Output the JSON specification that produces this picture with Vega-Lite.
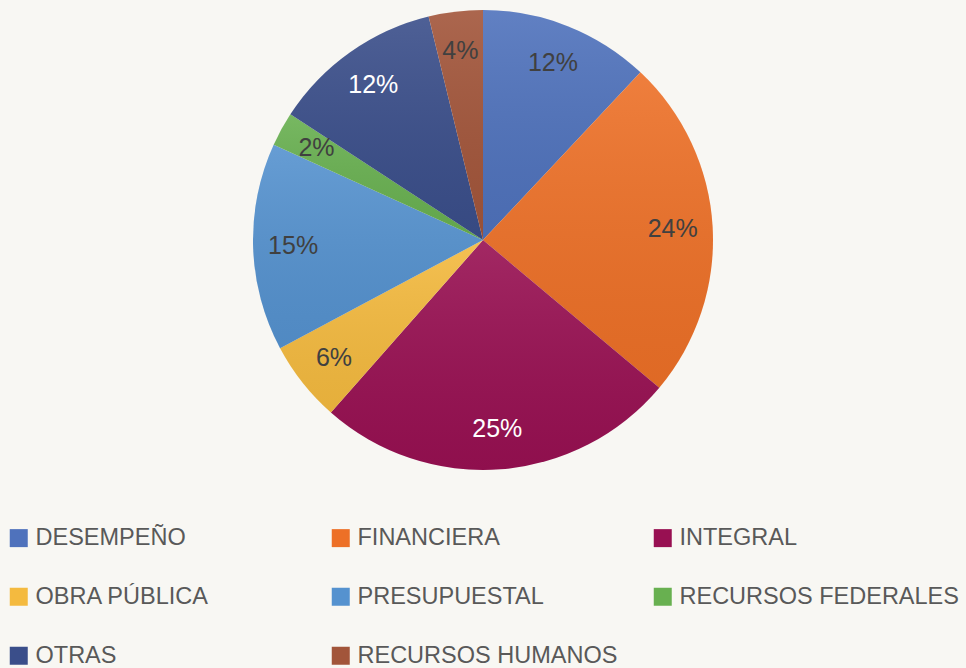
{
  "$schema": "https://vega.github.io/schema/vega-lite/v6.json",
  "width": 966,
  "height": 480,
  "padding": {"left": 0, "top": 0, "right": 0, "bottom": 188},
  "autosize": "none",
  "background": "#F8F7F3",
  "data": {
    "values": [
      {"cat": "DESEMPEÑO", "value": 0.120, "order": 1},
      {"cat": "FINANCIERA", "value": 0.241, "order": 2},
      {"cat": "INTEGRAL", "value": 0.254, "order": 3},
      {"cat": "OBRA PÚBLICA", "value": 0.057, "order": 4},
      {"cat": "PRESUPUESTAL", "value": 0.146, "order": 5},
      {"cat": "RECURSOS FEDERALES", "value": 0.024, "order": 6},
      {"cat": "OTRAS", "value": 0.120, "order": 7},
      {"cat": "RECURSOS HUMANOS", "value": 0.038, "order": 8}
    ]
  },
  "encoding": {
    "theta": {"field": "value", "type": "quantitative", "stack": true},
    "order": {"field": "order", "type": "quantitative"}
  },
  "layer": [
    {
      "mark": {"type": "arc", "outerRadius": 230},
      "encoding": {
        "color": {
          "field": "cat",
          "type": "nominal",
          "sort": null,
          "scale": {
            "domain": ["DESEMPEÑO", "FINANCIERA", "INTEGRAL", "OBRA PÚBLICA", "PRESUPUESTAL", "RECURSOS FEDERALES", "OTRAS", "RECURSOS HUMANOS"],
            "range": ["#4F72BC", "#ED7027", "#981052", "#F4BA3F", "#5592CF", "#68B050", "#3A4E8A", "#A2553A"]
          },
          "legend": {
            "title": null,
            "orient": "none",
            "legendX": 7,
            "legendY": 526,
            "direction": "horizontal",
            "columns": 3,
            "gridAlign": "all",
            "columnPadding": 14,
            "rowPadding": 34,
            "padding": 0,
            "symbolType": "square",
            "symbolSize": 324,
            "symbolStrokeWidth": 0,
            "symbolOpacity": 1,
            "labelOffset": 5,
            "labelFont": "Liberation Sans",
            "labelFontSize": 23.5,
            "labelColor": "#595959",
            "labelLimit": 400
          }
        }
      }
    },
    {
      "mark": {
        "type": "arc",
        "outerRadius": 230,
        "color": {
          "gradient": "linear",
          "x1": 0, "y1": 0, "x2": 0, "y2": 1,
          "stops": [
            {"offset": 0, "color": "rgba(255,255,255,0.10)"},
            {"offset": 1, "color": "rgba(0,0,0,0.06)"}
          ]
        }
      },
      "encoding": {}
    },
    {
      "mark": {"type": "text", "radius": 190, "font": "Liberation Sans", "fontSize": 25},
      "encoding": {
        "text": {"field": "value", "type": "quantitative", "format": ".0%"},
        "color": {
          "condition": {"test": "datum.cat === 'INTEGRAL' || datum.cat === 'OTRAS'", "value": "#FFFFFF"},
          "value": "#404040"
        }
      }
    }
  ]
}
